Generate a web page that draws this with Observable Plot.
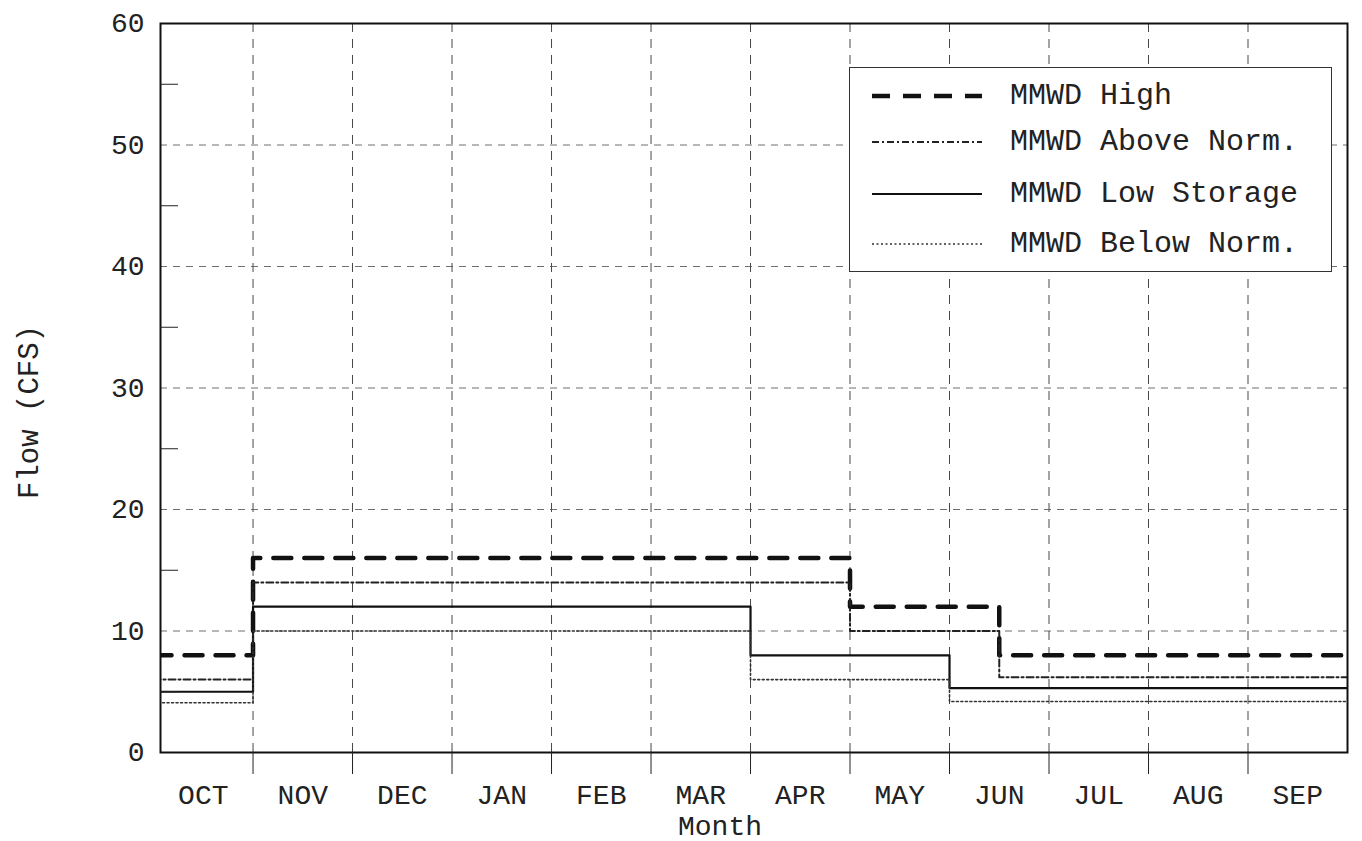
<!DOCTYPE html>
<html>
<head>
<meta charset="utf-8">
<script src="https://cdn.jsdelivr.net/npm/d3@7"></script>
<script src="https://cdn.jsdelivr.net/npm/@observablehq/plot@0.6"></script>
<style>
  body { margin: 0; background: #fff; }
  #wrap { position: relative; width: 1362px; height: 841px; font-family: "Liberation Mono", monospace; color: #222; }
  #legend {
    position: absolute; left: 849px; top: 67px; width: 481px; height: 203px;
    border: 1.5px solid #333; background: #fff; font-size: 30px;
  }
  .row { position: absolute; left: 0; height: 40px; display: flex; align-items: center; }
  .row svg { margin-left: 22px; }
  .row span { margin-left: 28px; white-space: pre; }
  #ylab { position: absolute; left: 30px; top: 412px; transform: translate(-50%, -50%) rotate(-90deg);
    font-size: 29px; white-space: pre; line-height: 1; }
  #xlab { position: absolute; left: 720px; top: 814px; transform: translateX(-50%);
    font-size: 28px; white-space: pre; line-height: 1; }
</style>
</head>
<body>
<div id="wrap"><div id="chart"></div><div id="legend"></div><div id="ylab"></div><div id="xlab"></div></div>
<script>
// ---- data ----
const months = ["OCT","NOV","DEC","JAN","FEB","MAR","APR","MAY","JUN","JUL","AUG","SEP"];
const yTicks = [0, 10, 20, 30, 40, 50, 60];
const yMinor = [5, 15, 25, 35, 45, 55];
const xLabel = "Month";
const yLabel = "Flow (CFS)";
const seriesNames = ["MMWD High", "MMWD Above Norm.", "MMWD Low Storage", "MMWD Below Norm."];
// step start (months after Oct 1) and flow value (CFS)
const highStart  = [0, 1, 7, 8.5];  const highFlow  = [8, 16, 12, 8];
const aboveStart = [0, 1, 7, 8.5];  const aboveFlow = [6, 14, 10, 6.2];
const lowStart   = [0, 1, 6, 8];    const lowFlow   = [5, 12, 8, 5.3];
const belowStart = [0, 1, 6, 8];    const belowFlow = [4.1, 10, 6, 4.2];
const yearEnd = 12;

// ---- styles ----
const styles = [
  {stroke: "#111", width: 4.5, dash: "18,13"},
  {stroke: "#222", width: 2, dash: "7,3,2,3"},
  {stroke: "#111", width: 2.2, dash: null},
  {stroke: "#333", width: 1.6, dash: "2,2.5"}
];

const starts = [highStart, aboveStart, lowStart, belowStart];
const flows = [highFlow, aboveFlow, lowFlow, belowFlow];
const seriesData = starts.map((s, k) => {
  const pts = s.map((x, i) => ({x, y: flows[k][i]}));
  pts.push({x: yearEnd, y: flows[k][flows[k].length - 1]});
  return pts;
});

const font = "Liberation Mono, monospace";

const chart = Plot.plot({
  width: 1362,
  height: 841,
  marginLeft: 160,
  marginRight: 15,
  marginTop: 23,
  marginBottom: 89,
  style: {fontFamily: font, fontSize: "28px", color: "#222", background: "#fff"},
  x: {domain: [0.07, 12]},
  y: {domain: [0, 60]},
  marks: [
    Plot.gridX(d3.range(1, 12), {stroke: "#333", strokeOpacity: 0.9, strokeDasharray: "9,7", strokeWidth: 1}),
    Plot.gridY([10, 20, 30, 40, 50], {stroke: "#555", strokeOpacity: 0.85, strokeDasharray: "7,6", strokeWidth: 1}),
    ...seriesData.map((d, k) => Plot.line(d, {
      x: "x", y: "y", curve: "step-after", clip: true,
      stroke: styles[k].stroke, strokeWidth: styles[k].width,
      strokeDasharray: styles[k].dash
    })),
    Plot.frame({stroke: "#111", strokeWidth: 2}),
    Plot.axisY(yTicks, {tickSize: 0, tickPadding: 16, fontSize: 28, label: null}),
    Plot.axisY(yMinor, {tickSize: -18, tickFormat: () => "", label: null, stroke: "#222"}),
    Plot.axisX(d3.range(0, 12).map(i => i + 0.5), {tickSize: 0, tickPadding: 32, fontSize: 28,
      tickFormat: d => months[Math.floor(d)], label: null}),
    Plot.axisX(d3.range(1, 12), {tickSize: 22, tickFormat: () => "", label: null, stroke: "#222"})
  ]
});
document.getElementById("chart").appendChild(chart);
d3.select("#xlab").text(xLabel);
d3.select("#ylab").text(yLabel);

// ---- legend ----
const rowCenters = [28, 74, 126, 176];
const legend = d3.select("#legend");
seriesNames.forEach((name, k) => {
  const row = legend.append("div").attr("class", "row").style("top", (rowCenters[k] - 20) + "px");
  const svg = row.append("svg").attr("width", 110).attr("height", 12);
  svg.append("line").attr("x1", 0).attr("x2", 110).attr("y1", 6).attr("y2", 6)
    .attr("stroke", styles[k].stroke).attr("stroke-width", styles[k].width)
    .attr("stroke-dasharray", styles[k].dash);
  row.append("span").text(name);
});
</script>
</body>
</html>
